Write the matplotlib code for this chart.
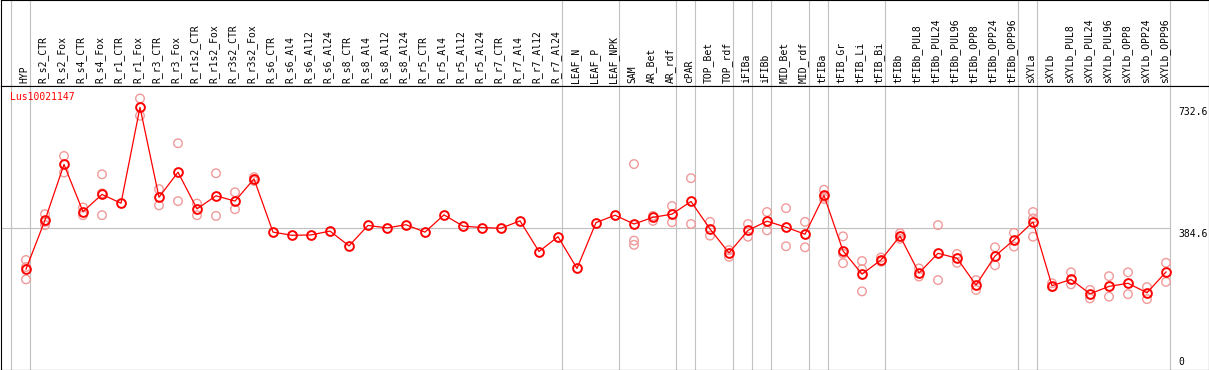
import numpy as np
import matplotlib
matplotlib.use("Agg")
import matplotlib.pyplot as plt
import matplotlib.transforms as mtransforms

# sample names (left to right)
samples = ["HYP", "R_s2_CTR", "R_s2_Fox", "R_s4_CTR", "R_s4_Fox", "R_r1_CTR", "R_r1_Fox",
           "R_r3_CTR", "R_r3_Fox", "R_r1s2_CTR", "R_r1s2_Fox", "R_r3s2_CTR", "R_r3s2_Fox",
           "R_s6_CTR", "R_s6_Al4", "R_s6_Al12", "R_s6_Al24", "R_s8_CTR", "R_s8_Al4",
           "R_s8_Al12", "R_s8_Al24", "R_r5_CTR", "R_r5_Al4", "R_r5_Al12", "R_r5_Al24",
           "R_r7_CTR", "R_r7_Al4", "R_r7_Al12", "R_r7_Al24", "LEAF_N", "LEAF_P", "LEAF_NPK",
           "SAM", "AR_Bet", "AR_rdf", "cPAR", "TOP_Bet", "TOP_rdf", "iFIBa", "iFIBb",
           "MID_Bet", "MID_rdf", "tFIBa", "tFIB_Gr", "tFIB_Li", "tFIB_Bi", "tFIBb",
           "tFIBb_PUL8", "tFIBb_PUL24", "tFIBb_PUL96", "tFIBb_OPP8", "tFIBb_OPP24",
           "tFIBb_OPP96", "sXYLa", "sXYLb", "sXYLb_PUL8", "sXYLb_PUL24", "sXYLb_PUL96",
           "sXYLb_OPP8", "sXYLb_OPP24", "sXYLb_OPP96"]

# mean expression per sample
means = [269, 408, 566, 432, 481, 456, 728, 473, 544, 440, 477, 462, 525,
         374, 365, 366, 377, 335, 393, 386, 395, 374, 423, 391, 387,
         385, 406, 319, 361, 271, 401, 422,
         397, 416, 425, 461, 383, 315, 379, 405,
         388, 368, 478, 321, 255, 295, 363,
         258, 314, 300, 224, 306, 352,
         403, 222, 240, 199, 220, 229, 202, 261]

# individual replicates (empty where they sit under the mean)
reps = [[295, 275, 240], [425, 403, 394], [590, 543], [444, 422], [538, 484, 422], [],
        [753, 704], [496, 450], [626, 462], [455, 422], [541, 420], [487, 439], [530, 519],
        [], [], [], [], [], [], [], [], [], [], [], [],
        [], [], [], [], [], [], [],
        [567, 350, 338], [420, 406], [448, 402], [527, 397], [403, 364], [323, 304],
        [397, 361], [431, 379],
        [442, 334], [403, 331], [494, 474, 468], [362, 313, 286], [292, 269, 206],
        [302, 290], [371, 355],
        [271, 248], [394, 238], [312, 287], [238, 210], [331, 280], [372, 333],
        [431, 413, 361], [229, 218], [260, 226], [210, 186], [249, 191], [260, 198],
        [218, 184], [287, 233]]

# group separators (index of first sample of each block)
groups = [0, 1, 29, 32, 35, 36, 38, 39, 40, 42, 43, 46, 53, 54, 61]
ref_value = 384.6
top_value = 732.6
gene = "Lus10021147"

W, H = 1209, 370
fig = plt.figure(figsize=(W / 100, H / 100), dpi=100)
head_px = 85.5
ax_top = fig.add_axes([0.5 / W, (H - head_px) / H, 1208 / W, head_px / H])
ax = fig.add_axes([0.5 / W, 0.5 / H, 1208 / W, (H - head_px - 0.5) / H])

xlim = ((0.5 - 26) / 19, (1208.5 - 26) / 19)
for a in (ax_top, ax):
    a.set_xlim(*xlim)
    a.set_xticks([])
    a.set_yticks([])
    for s in a.spines.values():
        s.set_linewidth(0.8)
        s.set_color("black")
ax.set_ylim((364 - 369.5) / 0.3526, (364 - 85.5) / 0.3526)
ax_top.set_ylim(0, 1)

# separators
for g in groups:
    for a in (ax_top, ax):
        a.axvline(g - 15 / 19, color="#c0c0c0", lw=0.8, zorder=0)

x = np.arange(len(samples))
ax.plot([xlim[0], len(samples) - 15 / 19], [ref_value, ref_value], color="#c0c0c0", lw=0.8, zorder=0)

# replicates
rx = [i for i, r in enumerate(reps) for _ in r]
ry = [v for r in reps for v in r]
ax.scatter(rx, ry, s=38, facecolors="none", edgecolors="#f09a9a", linewidths=1.0, zorder=2)

# means
ax.plot(x, means, color="red", lw=0.9, marker="o", ms=6.3, mfc="none", mec="red", mew=1.4, zorder=3)

# sample labels
for i, name in enumerate(samples):
    ax_top.text(i - 0.1, 0.03, name, rotation=90, ha="center", va="bottom",
                fontsize=7, family="DejaVu Sans Mono", color="black")

fig.text(10 / W, 1 - 97 / H, gene, color="red", fontsize=7, family="DejaVu Sans Mono",
         va="center", ha="left")

lab_x = (1178 - 26) / 19
down = mtransforms.offset_copy(ax.transData, fig=fig, x=0, y=-1, units="dots")
ax.text(lab_x, top_value, f"{top_value}", transform=down, va="top", ha="left",
        fontsize=7, family="DejaVu Sans Mono")
ax.text(lab_x, ref_value, f"{ref_value}", transform=down, va="top", ha="left",
        fontsize=7, family="DejaVu Sans Mono")
ax.text(lab_x, 0, "0", transform=mtransforms.offset_copy(ax.transData, fig=fig, x=0, y=-3, units="dots"),
        va="bottom", ha="left", fontsize=7, family="DejaVu Sans Mono")

fig.savefig("out.png", dpi=100)
